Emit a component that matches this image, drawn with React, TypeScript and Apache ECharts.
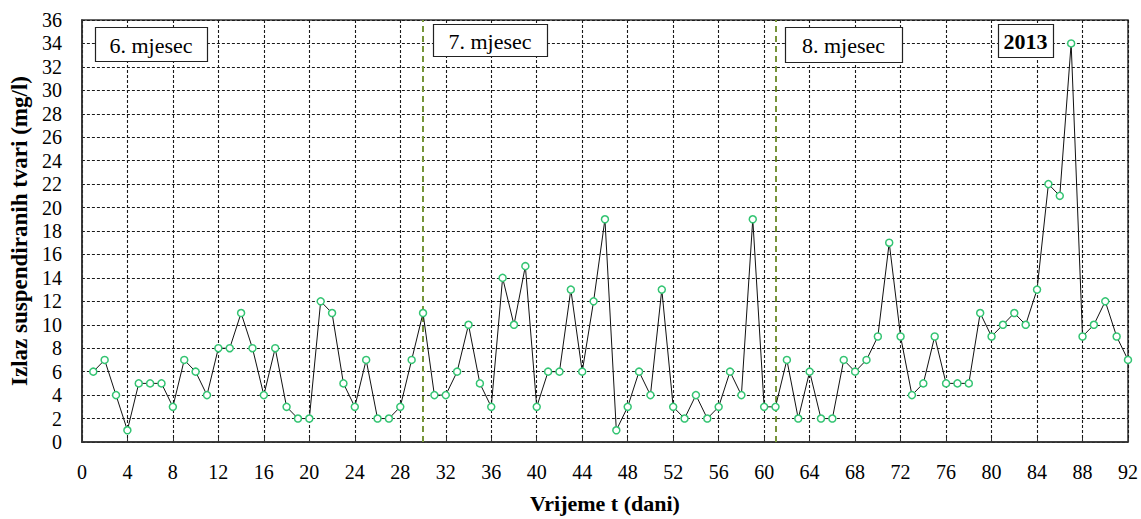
import React, { useEffect, useRef } from "react";
import * as echarts from "echarts";

const days: number[] = Array.from({ length: 92 }, (_, i) => i + 1);
const values: number[] = [
  6, 7, 4, 1, 5, 5, 5, 3, 7, 6, 4, 8, 8, 11, 8, 4, 8, 3, 2, 2,
  12, 11, 5, 3, 7, 2, 2, 3, 7, 11, 4, 4, 6, 10, 5, 3, 14, 10, 15, 3,
  6, 6, 13, 6, 12, 19, 1, 3, 6, 4, 13, 3, 2, 4, 2, 3, 6, 4, 19, 3,
  3, 7, 2, 6, 2, 2, 7, 6, 7, 9, 17, 9, 4, 5, 9, 5, 5, 5, 11, 9,
  10, 11, 10, 13, 22, 21, 34, 9, 10, 12, 9, 7,
];
const monthBoundaries: number[] = [30, 61];
const monthLabels: string[] = ["6. mjesec", "7. mjesec", "8. mjesec"];
const yearLabel = "2013";
const xTitle = "Vrijeme t (dani)";
const yTitle = "Izlaz suspendiranih tvari (mg/l)";

const SERIF = "Liberation Serif";

export default function App() {
  const ref = useRef<HTMLDivElement>(null);
  useEffect(() => {
    document.body.style.margin = "0";
    document.body.style.overflow = "hidden";
    if (!ref.current) return;
    const chart = echarts.init(ref.current, undefined, { renderer: "svg" });
    const data = days.map((d, i) => [d, values[i]]);
    const boxes = [
      { x: 95, y: 27, w: 112, h: 34, text: monthLabels[0], bold: false },
      { x: 433, y: 24, w: 114, h: 32, text: monthLabels[1], bold: false },
      { x: 785, y: 27, w: 117, h: 35, text: monthLabels[2], bold: false },
      { x: 998, y: 24, w: 55, h: 33, text: yearLabel, bold: true },
    ];
    const graphics: any[] = [];
    boxes.forEach((b) => {
      graphics.push({
        type: "rect",
        z: 100,
        shape: { x: b.x + 0.5, y: b.y + 0.5, width: b.w, height: b.h },
        style: { fill: "#fff", stroke: "#222", lineWidth: 1.2 },
      });
      graphics.push({
        type: "text",
        z: 101,
        x: b.x + b.w / 2,
        y: b.y + b.h / 2 + 1,
        style: {
          text: b.text,
          fontFamily: SERIF,
          fontSize: 22,
          fontWeight: b.bold ? "bold" : "normal",
          fill: "#000",
          align: "center",
          verticalAlign: "middle",
        },
      });
    });
    const dashGrid = { color: "#1a1a1a", width: 1.1, type: [3, 2] as any };
    chart.setOption({
      animation: false,
      textStyle: { fontFamily: SERIF },
      grid: {
        left: 80,
        right: 12,
        top: 20,
        bottom: 74,
        show: true,
        borderColor: "#333",
        borderWidth: 1.5,
        backgroundColor: "transparent",
      },
      xAxis: {
        type: "value",
        min: 0,
        max: 92,
        interval: 4,
        name: xTitle,
        nameLocation: "middle",
        nameGap: 50,
        nameTextStyle: { fontFamily: SERIF, fontWeight: "bold", fontSize: 22, color: "#000" },
        axisLine: { show: true, lineStyle: { color: "#333", width: 1.5 } },
        axisTick: { show: true, inside: true, length: 4, lineStyle: { color: "#333" } },
        axisLabel: { fontFamily: SERIF, fontSize: 20, color: "#000", margin: 20 },
        splitLine: { show: true, lineStyle: dashGrid },
      },
      yAxis: {
        type: "value",
        min: 0,
        max: 36,
        interval: 2,
        name: yTitle,
        nameLocation: "middle",
        nameGap: 47,
        nameTextStyle: { fontFamily: SERIF, fontWeight: "bold", fontSize: 23, color: "#000" },
        axisLine: { show: true, lineStyle: { color: "#333", width: 1.5 } },
        axisTick: { show: false },
        axisLabel: { fontFamily: SERIF, fontSize: 20, color: "#000", margin: 20 },
        splitLine: { show: true, lineStyle: dashGrid },
      },
      series: [
        {
          type: "line",
          data,
          symbol: "circle",
          symbolSize: 7,
          showSymbol: true,
          lineStyle: { color: "#111", width: 1 },
          itemStyle: { color: "#fff", borderColor: "#33c472", borderWidth: 1.5 },
          z: 5,
          markLine: {
            silent: true,
            symbol: "none",
            label: { show: false },
            lineStyle: { color: "#77953a", width: 2, type: [6, 4] as any },
            data: monthBoundaries.map((m) => ({ xAxis: m })),
            z: 4,
          },
        },
      ],
      graphic: graphics,
    });
    return () => chart.dispose();
  }, []);
  return <div ref={ref} style={{ width: 1141, height: 519 }} />;
}
